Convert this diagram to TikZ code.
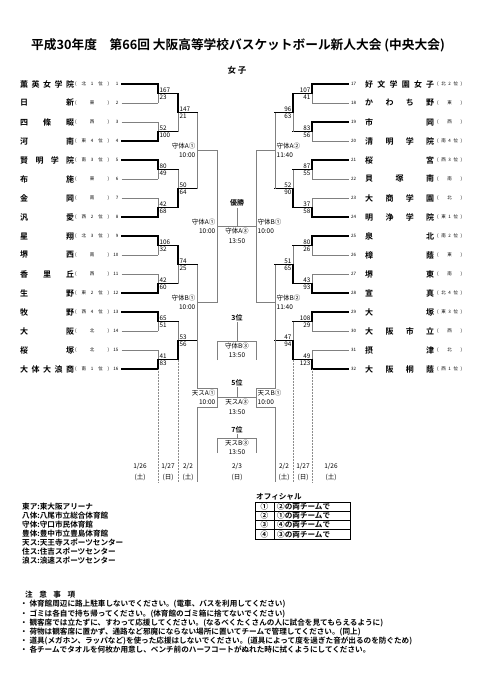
\documentclass[tikz,border=0pt]{standalone}
\usepackage{fontspec}
\setmainfont{Noto Sans CJK JP}[BoldFont={Noto Sans CJK JP Bold}]

\newcommand\lgame[8]{%
\draw[lost] (#2,#4) -- (#2,#5);
\draw[won] (#2,#8) -- (#2,{(#4+#5)/2}) coordinate (#1) -- (#3,{(#4+#5)/2});
\node[score,anchor=south west] (#1a) at ([xshift=0.6pt]#1) {#6};
\node[score,anchor=north west] (#1b) at ([xshift=0.6pt]#1) {#7};
}
\newcommand\rgame[8]{%
\draw[lost] (#2,#4) -- (#2,#5);
\draw[won] (#2,#8) -- (#2,{(#4+#5)/2}) coordinate (#1) -- (#3,{(#4+#5)/2});
\node[score,anchor=south east] (#1a) at ([xshift=-0.6pt]#1) {#6};
\node[score,anchor=north east] (#1b) at ([xshift=-0.6pt]#1) {#7};
}

\begin{document}
\begin{tikzpicture}[
x=1pt,y=-1pt,
every node/.style={inner sep=0pt},
team/.style={font=\bfseries\fontsize{8}{9}\selectfont},
rank/.style={font=\fontsize{4.5}{5}\selectfont},
num/.style={font=\fontsize{4.5}{5}\selectfont},
score/.style={font=\fontsize{6.3}{7}\selectfont,inner sep=0.9pt},
venue/.style={font=\fontsize{6.5}{9.5}\selectfont},
place/.style={font=\bfseries\fontsize{7}{8}\selectfont},
date/.style={font=\fontsize{6.5}{11.5}\selectfont,align=center},
info/.style={font=\bfseries\fontsize{7.6}{9}\selectfont,anchor=west},
lost/.style={draw=black!50,line width=0.6pt},
won/.style={draw=black,line width=1.5pt,line cap=rect},
cont/.style={draw=black!45,line width=0.5pt,densely dotted}
]

\path[fill=white] (0,0) rectangle (481,680);
\useasboundingbox (0,0) rectangle (481,680);

\node[font=\bfseries\fontsize{12.7}{13}\selectfont] (title) at (238,45)
{平成30年度　第66回 大阪高等学校バスケットボール新人大会 (中央大会)};
\node[font=\bfseries\fontsize{8.5}{9}\selectfont] (sub) at (237,70) {女 子};

\foreach \i/\nm/\rk/\w in {
1/{薫 英 女 学 院}/{( 北 1 位 )}/1,
2/{日 新}/{( 東 )}/0,
3/{四 條 畷}/{( 西 )}/0,
4/{河 南}/{( 東 4 位 )}/1,
5/{賢 明 学 院}/{( 南 3 位 )}/1,
6/{布 施}/{( 東 )}/0,
7/{金 岡}/{( 南 )}/0,
8/{汎 愛}/{( 西 2 位 )}/1,
9/{星 翔}/{( 北 3 位 )}/1,
10/{堺 西}/{( 南 )}/0,
11/{香 里 丘}/{( 西 )}/0,
12/{生 野}/{( 東 2 位 )}/1,
13/{牧 野}/{( 西 4 位 )}/1,
14/{大 阪}/{( 北 )}/0,
15/{桜 塚}/{( 北 )}/0,
16/{大 体 大 浪 商}/{( 南 1 位 )}/1}{
\pgfmathsetmacro\yy{84+19*(\i-1)}
\node[team,anchor=west] (t\i) at (20,\yy) {\makebox[54pt][s]{\nm}};
\node[rank,anchor=west] (r\i) at (75,\yy) {\makebox[34pt][s]{\rk}};
\node[num,anchor=east] (n\i) at (118.5,\yy) {\i};
\ifnum\w=1 \draw[won] ([xshift=3pt]n\i.east) -- (158,\yy);
\else \draw[lost] ([xshift=3pt]n\i.east) -- (158,\yy); \fi
}

\foreach \i/\nm/\rk/\w in {
17/{好 文 学 園 女 子}/{( 北 2 位 )}/1,
18/{か わ ち 野}/{( 東 )}/0,
19/{市 岡}/{( 西 )}/1,
20/{清 明 学 院}/{( 南 4 位 )}/0,
21/{桜 宮}/{( 西 3 位 )}/1,
22/{貝 塚 南}/{( 南 )}/0,
23/{大 商 学 園}/{( 北 )}/0,
24/{明 浄 学 院}/{( 東 1 位 )}/1,
25/{泉 北}/{( 南 2 位 )}/1,
26/{樟 蔭}/{( 東 )}/0,
27/{堺 東}/{( 南 )}/0,
28/{宣 真}/{( 北 4 位 )}/1,
29/{大 塚}/{( 東 3 位 )}/1,
30/{大 阪 市 立}/{( 西 )}/0,
31/{摂 津}/{( 北 )}/0,
32/{大 阪 桐 蔭}/{( 西 1 位 )}/1}{
\pgfmathsetmacro\yy{84+19*(\i-17)}
\node[num,anchor=west] (n\i) at (351,\yy) {\i};
\node[team,anchor=west] (t\i) at (365,\yy) {\makebox[69pt][s]{\nm}};
\node[rank,anchor=west] (r\i) at (437,\yy) {\makebox[25pt][s]{\rk}};
\ifnum\w=1 \draw[won] ([xshift=-2.5pt]n\i.west) -- (312,\yy);
\else \draw[lost] ([xshift=-2.5pt]n\i.west) -- (312,\yy); \fi
}

\lgame{g1}{158}{178}{84}{103}{167}{23}{84}
\lgame{g2}{158}{178}{122}{141}{52}{100}{141}
\lgame{g3}{158}{178}{160}{179}{80}{49}{160}
\lgame{g4}{158}{178}{198}{217}{42}{68}{217}
\lgame{g5}{158}{178}{236}{255}{106}{32}{236}
\lgame{g6}{158}{178}{274}{293}{42}{60}{293}
\lgame{g7}{158}{178}{312}{331}{65}{51}{312}
\lgame{g8}{158}{178}{350}{369}{41}{83}{369}
\lgame{h1}{178}{197}{93.5}{131.5}{147}{21}{93.5}
\lgame{h2}{178}{197}{169.5}{207.5}{50}{64}{207.5}
\lgame{h3}{178}{197}{245.5}{283.5}{74}{25}{245.5}
\lgame{h4}{178}{197}{321.5}{359.5}{53}{56}{359.5}

\rgame{g9}{312}{293}{84}{103}{107}{41}{84}
\rgame{g10}{312}{293}{122}{141}{83}{56}{122}
\rgame{g11}{312}{293}{160}{179}{87}{55}{160}
\rgame{g12}{312}{293}{198}{217}{37}{58}{217}
\rgame{g13}{312}{293}{236}{255}{80}{26}{236}
\rgame{g14}{312}{293}{274}{293}{43}{93}{293}
\rgame{g15}{312}{293}{312}{331}{108}{29}{312}
\rgame{g16}{312}{293}{350}{369}{49}{123}{369}
\rgame{h5}{293}{275}{93.5}{131.5}{96}{63}{93.5}
\rgame{h6}{293}{275}{169.5}{207.5}{52}{90}{207.5}
\rgame{h7}{293}{275}{245.5}{283.5}{51}{65}{283.5}
\rgame{h8}{293}{275}{321.5}{359.5}{47}{94}{359.5}

\draw[lost] (197,112.5) -- (197,188.5);
\draw[lost] (197,264.5) -- (197,388) -- (217,388) -- (217,407) -- (197,407) -- (197,482);
\draw[lost] (197,150.5) -| (217,302.5) -- (197,302.5);
\draw[lost] (275,112.5) -- (275,188.5);
\draw[lost] (275,264.5) -- (275,388) -- (256,388) -- (256,407) -- (275,407) -- (275,482);
\draw[lost] (275,150.5) -| (256,302.5) -- (275,302.5);
\draw[lost] (217,226.5) coordinate (fl) -- (256,226.5) coordinate (fr);

\draw[cont] (158,369) -- (158,482);
\draw[cont] (178,359.5) -- (178,482);
\draw[cont] (312,369) -- (312,482);
\draw[cont] (293,359.5) -- (293,482);

\node[venue,anchor=east,align=right] (q1) at (195.5,150.5) {守体A①\\10:00};
\node[venue,anchor=east,align=right] (q2) at (195.5,302.5) {守体B①\\10:00};
\node[venue,anchor=west,align=left] (q3) at (276.5,150.5) {守体A②\\11:40};
\node[venue,anchor=west,align=left] (q4) at (276.5,302.5) {守体B②\\11:40};
\node[venue,anchor=east,align=right] (s1) at (215.5,226.5) {守体A①\\10:00};
\node[venue,anchor=west,align=left] (s2) at (257.5,226.5) {守体B①\\10:00};

\node[place] (champ) at (237,203) {優勝};
\draw[lost] (champ.south) ++(0,-1pt) -- (237,226.5);
\node[venue,anchor=north,align=center] (fv) at (237,228) {守体A③\\13:50};

\node[place] (third) at (237,318) {3位};
\draw[lost] (third.south) ++(0,-1pt) -- (237,341);
\draw[lost] (217,360) -- (217,341) -- (256,341) -- (256,360);
\node[venue,anchor=north,align=center] (tv) at (237,342.5) {守体B③\\13:50};

\node[place] (fifth) at (237,383) {5位};
\draw[lost] (fifth.south) ++(0,-1pt) -- (237,397.5);
\draw[lost] (217,397.5) -- (256,397.5);
\node[venue,anchor=east,align=right] (c1) at (215.5,397.5) {天スA①\\10:00};
\node[venue,anchor=west,align=left] (c2) at (257.5,397.5) {天スB①\\10:00};
\node[venue,anchor=north,align=center] (cv) at (237,399) {天スA③\\13:50};

\node[place] (seventh) at (237,430) {7位};
\draw[lost] (seventh.south) ++(0,-1pt) -- (237,438);
\draw[lost] (217,453) -- (217,438) -- (256,438) -- (256,453);
\node[venue,anchor=north,align=center] (sv) at (237,439.5) {天スB③\\13:50};

\node[date] (d1) at (140,472) {1/26\\(土)};
\node[date] (d2) at (168,472) {1/27\\(日)};
\node[date] (d3) at (188,472) {2/2\\(土)};
\node[date] (d4) at (237,472) {2/3\\(日)};
\node[date] (d5) at (284,472) {2/2\\(土)};
\node[date] (d6) at (303,472) {1/27\\(日)};
\node[date] (d7) at (331,472) {1/26\\(土)};

\foreach \k/\txt in {0/東ア:東大阪アリーナ,1/八体:八尾市立総合体育館,
2/守体:守口市民体育館,3/豊体:豊中市立豊島体育館,4/天ス:天王寺スポーツセンター,
5/住ス:住吉スポーツセンター,6/浪ス:浪速スポーツセンター}
\node[info] (v\k) at (22,507+9*\k) {\txt};

\node[info] (off) at (256,497) {オフィシャル};
\draw[line width=0.6pt] (255,502) rectangle (350,539);
\draw[line width=0.6pt] (274,502) -- (274,539);
\foreach \k in {1,2,3} \draw[line width=0.6pt] (255,502+9.25*\k) -- (350,502+9.25*\k);
\foreach \k/\a/\b in {0/①/②,1/②/①,2/③/④,3/④/③}{
\node[info,anchor=center] (oa\k) at (264.5,506.6+9.25*\k) {\a};
\node[info] (ob\k) at (277,506.6+9.25*\k) {\b の両チームで};
}

\node[info] (note) at (25,595) {\makebox[50pt][s]{注 意 事 項}};
\foreach \k/\txt in {
0/体育館周辺に路上駐車しないでください。(電車、バスを利用してください),
1/ゴミは各自で持ち帰ってください。(体育館のゴミ箱に捨てないでください),
2/観客席では立たずに、すわって応援してください。(なるべくたくさんの人に試合を見てもらえるように),
3/荷物は観客席に置かず、通路など邪魔にならない場所に置いてチームで管理してください。(同上),
4/道具(メガホン、ラッパなど)を使った応援はしないでください。(道具によって度を過ぎた音が出るのを防ぐため),
5/各チームでタオルを何枚か用意し、ベンチ前のハーフコートがぬれた時に拭くようにしてください。}
\node[info] (m\k) at (20,604.5+9.1*\k) {・ \txt};

\end{tikzpicture}
\end{document}
